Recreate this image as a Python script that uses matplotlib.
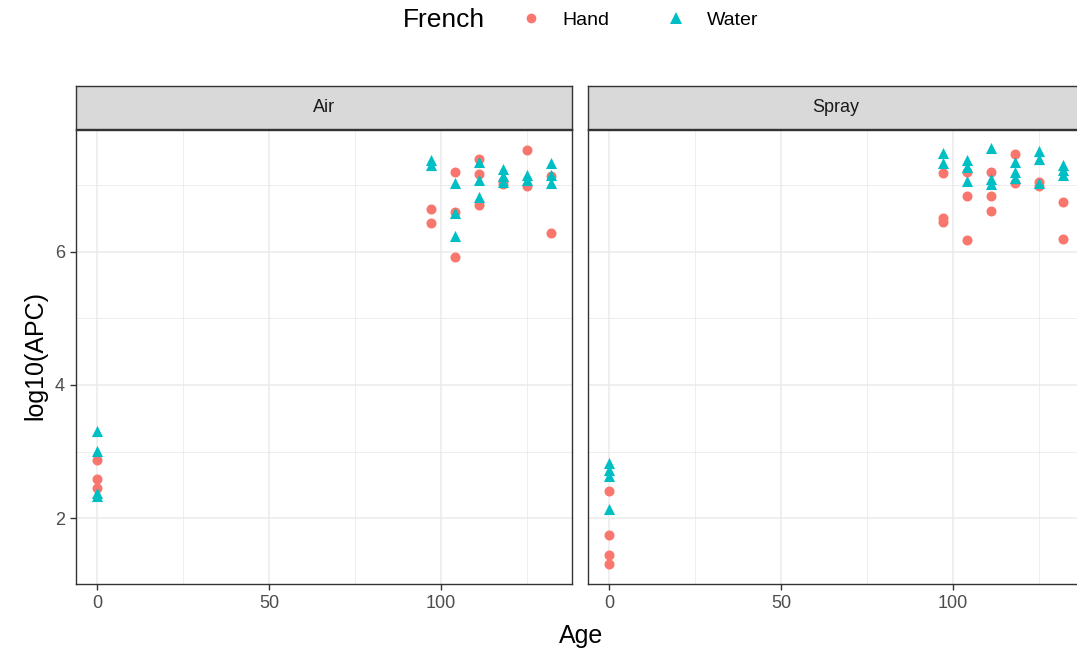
import numpy as np
import matplotlib
matplotlib.use('Agg')
import matplotlib.pyplot as plt
from matplotlib.lines import Line2D

plt.rcParams['font.family'] = ['Liberation Sans', 'DejaVu Sans']

# values
air_hand_age = [0, 0, 0, 97, 97, 104, 104, 104, 111, 111, 111, 118, 118, 125, 125, 132, 132]
air_hand_val = [2.88, 2.58, 2.45, 6.65, 6.43, 7.20, 6.60, 5.92, 7.40, 7.17, 6.71, 7.07, 7.02, 7.53, 6.99, 7.14, 6.29]
air_water_age = [0, 0, 0, 0, 97, 97, 104, 104, 104, 111, 111, 111, 118, 118, 118, 125, 125, 132, 132, 132]
air_water_val = [3.31, 3.01, 2.38, 2.33, 7.38, 7.31, 7.04, 6.59, 6.24, 7.35, 7.08, 6.83, 7.24, 7.14, 7.05, 7.16, 7.08, 7.34, 7.16, 7.04]
spray_hand_age = [0, 0, 0, 0, 97, 97, 97, 104, 104, 104, 111, 111, 111, 118, 118, 125, 125, 132, 132]
spray_hand_val = [2.41, 1.74, 1.44, 1.31, 7.19, 6.51, 6.45, 7.20, 6.84, 6.18, 7.20, 6.84, 6.62, 7.47, 7.04, 7.05, 6.99, 6.75, 6.19]
spray_water_age = [0, 0, 0, 0, 97, 97, 104, 104, 104, 111, 111, 111, 118, 118, 118, 125, 125, 125, 132, 132, 132]
spray_water_val = [2.83, 2.73, 2.63, 2.14, 7.49, 7.33, 7.38, 7.27, 7.07, 7.56, 7.10, 7.02, 7.35, 7.20, 7.11, 7.51, 7.40, 7.04, 7.31, 7.23, 7.16]

panels = ['Air', 'Spray']
hand_col = '#F8766D'
water_col = '#00BFC4'

W, H = 1077, 652
fig = plt.figure(figsize=(W / 100, H / 100), dpi=100)

def px(x0, y0, x1, y1):
    return [x0 / W, 1 - y1 / H, (x1 - x0) / W, (y1 - y0) / H]

data = [(air_hand_age, air_hand_val, air_water_age, air_water_val),
        (spray_hand_age, spray_hand_val, spray_water_age, spray_water_val)]
lefts = [76, 588]

for i, name in enumerate(panels):
    l = lefts[i]
    ax = fig.add_axes(px(l, 130, l + 496, 584))
    ha, hv, wa, wv = data[i]
    ax.scatter(ha, hv, s=52, marker='o', color=hand_col, linewidths=0, zorder=3)
    ax.scatter(wa, wv, s=64, marker='^', color=water_col, linewidths=0, zorder=4)
    ax.set_xlim(-6.1, 138.1)
    ax.set_ylim(1.01, 7.83)
    ax.set_xticks([0, 50, 100])
    ax.set_yticks([2, 4, 6])
    ax.set_xticks([25, 75, 125], minor=True)
    ax.set_yticks([3, 5, 7], minor=True)
    ax.grid(True, which='major', color='#EBEBEB', linewidth=1.1, zorder=0)
    ax.grid(True, which='minor', color='#EBEBEB', linewidth=0.6, zorder=0)
    ax.set_axisbelow(True)
    ax.tick_params(which='major', length=4, width=1.0, color='#333333',
                   labelcolor='#4D4D4D', labelsize=13, pad=4)
    ax.tick_params(which='minor', length=0)
    for sp in ax.spines.values():
        sp.set_color('#333333')
        sp.set_linewidth(1.0)
    if i == 1:
        ax.tick_params(axis='y', which='both', length=0, labelleft=False)

    st = fig.add_axes(px(l, 86, l + 496, 129))
    st.set_facecolor('#D9D9D9')
    st.set_xticks([])
    st.set_yticks([])
    for sp in st.spines.values():
        sp.set_color('#333333')
        sp.set_linewidth(1.0)
    st.text(0.5, 0.5, name, ha='center', va='center', fontsize=13, color='#1A1A1A',
            transform=st.transAxes)

fig.text(35 / W, 1 - 355 / H, 'log10(APC)', ha='center', va='center', rotation=90, fontsize=18)
fig.text(581 / W, 1 - 636 / H, 'Age', ha='center', va='center', fontsize=18)

fig.text(403 / W, 1 - 20 / H, 'French', ha='left', va='center', fontsize=19)
handles = [Line2D([], [], linestyle='none', marker='o', color=hand_col, markersize=7, markeredgewidth=0),
           Line2D([], [], linestyle='none', marker='^', color=water_col, markersize=8, markeredgewidth=0)]
fig.legend(handles, ['Hand', 'Water'], ncol=2, frameon=False, fontsize=14,
           loc='center left', bbox_to_anchor=(512 / W, 1 - 20 / H),
           handlelength=1.0, handletextpad=1.1, columnspacing=2.9, borderpad=0)

fig.savefig('out.png', dpi=100)
